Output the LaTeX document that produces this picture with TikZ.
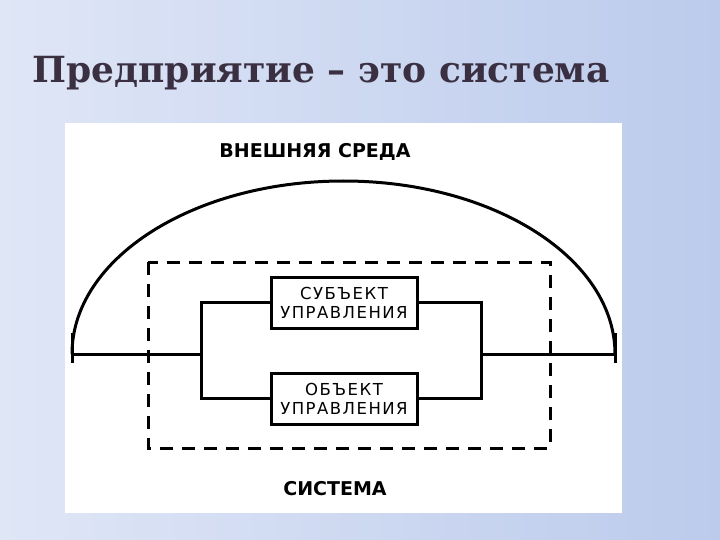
\documentclass[tikz,border=0pt]{standalone}
\usepackage{fontspec}
\setmainfont{DejaVu Sans}
\newfontfamily\titlefont{DejaVu Serif}
\usetikzlibrary{shadings}
\definecolor{bgL}{HTML}{DFE6F6}
\definecolor{bgR}{HTML}{BCCBEC}
\definecolor{titlec}{HTML}{3A3042}
\tikzset{
  thk/.style={line width=3pt},
  boxn/.style={draw,line width=3pt,minimum width=146pt,minimum height=51pt,inner sep=0pt,align=center,font=\addfontfeatures{LetterSpace=9}\fontsize{16.5}{19}\selectfont},
  lbl/.style={font=\bfseries\fontsize{19}{21}\selectfont}
}
\begin{document}
\begin{tikzpicture}[x=1pt,y=-1pt]
\useasboundingbox (0,0) rectangle (720,540);
\shade[left color=bgL,right color=bgR] (0,0) rectangle (720,540);
\fill[white] (65,123) rectangle (622,513);
\node (title) [anchor=base,text=titlec,font=\titlefont\bfseries\fontsize{36}{40}\selectfont] at (321,83) {Предприятие – это система};
\node (env) [lbl] at (315,152) {ВНЕШНЯЯ СРЕДА};
\node (sys) [lbl] at (335,489) {СИСТЕМА};
\draw[thk] (72,354) arc[start angle=180,end angle=360,x radius=271.5,y radius=173];
\draw[thk] (72,333) -- (72,363);
\draw[thk] (615,333) -- (615,363);
\draw[line width=3pt,dash pattern=on 13pt off 9pt] (148,262) rectangle (550,448);
\node (subj) [boxn] at (344,302.5) {СУБЪЕКТ\\УПРАВЛЕНИЯ};
\node (obj) [boxn] at (344,398.5) {ОБЪЕКТ\\УПРАВЛЕНИЯ};
\coordinate (lj) at (201,354);
\coordinate (rj) at (481,354);
\coordinate (le) at (72,354);
\coordinate (re) at (615,354);
\draw[thk] (le) -- (lj);
\draw[thk] (rj) -- (re);
\draw[thk] (subj.west) -| (lj) |- (obj.west);
\draw[thk] (subj.east) -| (rj) |- (obj.east);
\end{tikzpicture}
\end{document}
